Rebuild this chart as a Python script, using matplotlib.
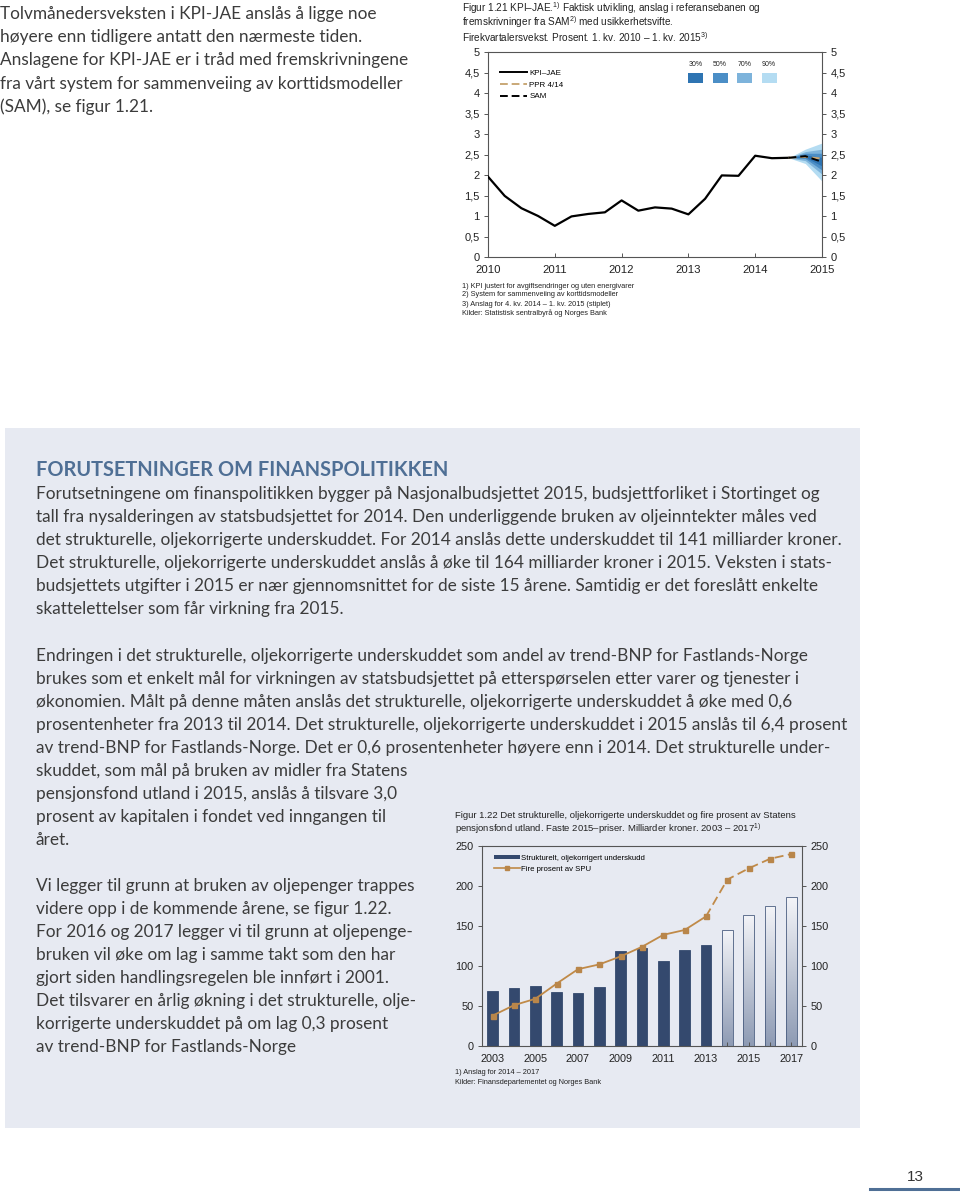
import numpy as np
import matplotlib.pyplot as plt
from matplotlib.patches import Rectangle
from matplotlib.lines import Line2D
from matplotlib.colors import LinearSegmentedColormap

W, H = 960, 1195

# --- Figur 1.21: KPI-JAE (kvartal, 1. kv. 2010 - 3. kv. 2014) ---
kvartal = np.arange(2010.0, 2014.51, 0.25)
kpi_jae = [1.96, 1.49, 1.19, 1.00, 0.76, 0.99, 1.05, 1.09, 1.38, 1.13,
           1.21, 1.18, 1.04, 1.42, 1.99, 1.98, 2.47, 2.41, 2.42]

# anslag 3. kv. 2014 - 1. kv. 2015
kvartal_ansl = [2014.5, 2014.75, 2015.0]
sam = [2.42, 2.46, 2.32]
ppr_414 = [2.42, 2.44, 2.40]
vifte = {
    "90%": ([2.42, 2.28, 1.85], [2.42, 2.63, 2.78]),
    "70%": ([2.42, 2.35, 2.02], [2.42, 2.57, 2.63]),
    "50%": ([2.42, 2.40, 2.12], [2.42, 2.53, 2.53]),
    "30%": ([2.42, 2.43, 2.22], [2.42, 2.49, 2.43]),
}
vifte_farger = {"30%": "#2e74b2", "50%": "#4b8ec6", "70%": "#7db3db", "90%": "#b4dcf2"}

# --- Figur 1.22: underskudd og fire prosent av SPU ---
aar = list(range(2003, 2018))
underskudd = [69, 73, 75, 67, 66, 74, 119, 122, 106, 120, 126, 145, 164, 175, 186]
fire_prosent = [38, 51, 59, 78, 96, 102, 112, 124, 139, 145, 162, 208, 222, 234, 240]
siste_faktiske = 2013

TXT = "#3c3c3c"
NAVY = "#34496e"
TAN = "#c08a48"
PANEL = "#e7eaf2"

plt.rcParams["mathtext.fontset"] = "custom"
plt.rcParams["mathtext.rm"] = "Liberation Sans"
plt.rcParams["mathtext.it"] = "Liberation Sans"

fig = plt.figure(figsize=(W / 100, H / 100), dpi=100)
fig.patch.set_facecolor("white")


def fx(px):
    return px / W


def fy(py):
    return 1 - py / H


def put(px, py, s, **kw):
    kw.setdefault("va", "center")
    return fig.text(fx(px), fy(py), s, **kw)


def px_axes(l, t, r, b):
    return fig.add_axes([fx(l), fy(b), (r - l) / W, (b - t) / H])


# --- bakgrunnspanel ---
fig.patches.append(Rectangle((fx(5), fy(1128)), (860 - 5) / W, (1128 - 428) / H,
                             transform=fig.transFigure, facecolor=PANEL,
                             edgecolor="none", zorder=-10))

# --- brodtekst ---
body = dict(family="Lato", fontsize=12.4, color=TXT)
venstre_topp = [
    "Tolvmånedersveksten i KPI-JAE anslås å ligge noe",
    "høyere enn tidligere antatt den nærmeste tiden.",
    "Anslagene for KPI-JAE er i tråd med fremskrivningene",
    "fra vårt system for sammenveiing av korttidsmodeller",
    "(SAM), se figur 1.21.",
]
for i, s in enumerate(venstre_topp):
    put(0, 14 + i * 23.2, s, **body)

put(36, 470, "FORUTSETNINGER OM FINANSPOLITIKKEN", family="Lato", fontsize=14.4,
    fontweight="bold", color="#4f6f95")

avsnitt1 = [
    "Forutsetningene om finanspolitikken bygger på Nasjonalbudsjettet 2015, budsjettforliket i Stortinget og",
    "tall fra nysalderingen av statsbudsjettet for 2014. Den underliggende bruken av oljeinntekter måles ved",
    "det strukturelle, oljekorrigerte underskuddet. For 2014 anslås dette underskuddet til 141 milliarder kroner.",
    "Det strukturelle, oljekorrigerte underskuddet anslås å øke til 164 milliarder kroner i 2015. Veksten i stats-",
    "budsjettets utgifter i 2015 er nær gjennomsnittet for de siste 15 årene. Samtidig er det foreslått enkelte",
    "skattelettelser som får virkning fra 2015.",
]
for i, s in enumerate(avsnitt1):
    put(36, 494 + i * 23, s, **body)

avsnitt2 = [
    "Endringen i det strukturelle, oljekorrigerte underskuddet som andel av trend-BNP for Fastlands-Norge",
    "brukes som et enkelt mål for virkningen av statsbudsjettet på etterspørselen etter varer og tjenester i",
    "økonomien. Målt på denne måten anslås det strukturelle, oljekorrigerte underskuddet å øke med 0,6",
    "prosentenheter fra 2013 til 2014. Det strukturelle, oljekorrigerte underskuddet i 2015 anslås til 6,4 prosent",
    "av trend-BNP for Fastlands-Norge. Det er 0,6 prosentenheter høyere enn i 2014. Det strukturelle under-",
    "skuddet, som mål på bruken av midler fra Statens",
    "pensjonsfond utland i 2015, anslås å tilsvare 3,0",
    "prosent av kapitalen i fondet ved inngangen til",
    "året.",
]
for i, s in enumerate(avsnitt2):
    put(36, 656 + i * 23, s, **body)

avsnitt3 = [
    "Vi legger til grunn at bruken av oljepenger trappes",
    "videre opp i de kommende årene, se figur 1.22.",
    "For 2016 og 2017 legger vi til grunn at oljepenge-",
    "bruken vil øke om lag i samme takt som den har",
    "gjort siden handlingsregelen ble innført i 2001.",
    "Det tilsvarer en årlig økning i det strukturelle, olje-",
    "korrigerte underskuddet på om lag 0,3 prosent",
    "av trend-BNP for Fastlands-Norge",
]
for i, s in enumerate(avsnitt3):
    put(36, 886 + i * 23, s, **body)

# sidetall
put(915, 1177, "13", family="Liberation Sans", fontsize=11, color="#333333", ha="center")
fig.lines.append(Line2D([fx(870), fx(960)], [fy(1189), fy(1189)], transform=fig.transFigure,
                        color="#4f6f95", linewidth=2.2))

chart = dict(family="Liberation Sans", color="#222222")


def style_axes(ax):
    for sp in ax.spines.values():
        sp.set_color("#555555")
        sp.set_linewidth(0.8)
    ax.tick_params(axis="both", colors="#555555", labelcolor="#222222", width=0.7)


# --- Figur 1.21 ---
put(462, 8, r"Figur 1.21 KPI–JAE.$^{1)}$ Faktisk utvikling, anslag i referansebanen og",
    fontsize=7.2, **chart)
put(462, 22, r"fremskrivninger fra SAM$^{2)}$ med usikkerhetsvifte.", fontsize=7.2, **chart)
put(462, 37, r"Firekvartalersvekst. Prosent. 1. kv. 2010 – 1. kv. 2015$^{3)}$", fontsize=7.2, **chart)

ax1 = px_axes(488, 52, 822, 257)
ax1.set_facecolor("white")
for navn in ["90%", "70%", "50%", "30%"]:
    lo, hi = vifte[navn]
    ax1.fill_between(kvartal_ansl, lo, hi, color=vifte_farger[navn], linewidth=0, zorder=1)
ax1.plot(kvartal, kpi_jae, color="black", linewidth=1.6, zorder=3)
ax1.plot(kvartal_ansl, ppr_414, color="#c9a877", linewidth=1.4, dashes=(4, 2), zorder=3)
ax1.plot(kvartal_ansl, sam, color="black", linewidth=1.4, dashes=(4, 2), zorder=4)
ax1.set_xlim(2010, 2015)
ax1.set_ylim(0, 5)
yt = np.arange(0, 5.01, 0.5)
ylab = [f"{v:g}".replace(".", ",") for v in yt]
ax1.set_yticks(yt)
ax1.set_yticklabels(ylab, fontsize=8, family="Liberation Sans")
ax1.tick_params(axis="y", direction="out", length=3, pad=3, right=True, labelright=True)
ax1.set_xticks(range(2010, 2016))
ax1.set_xticklabels([str(a) for a in range(2010, 2016)], fontsize=8.2, family="Liberation Sans")
ax1.tick_params(axis="x", direction="in", length=3, pad=6)
style_axes(ax1)

ax1.legend(handles=[Line2D([], [], color="black", linewidth=1.4),
                    Line2D([], [], color="#c9a877", linewidth=1.4, dashes=(4, 2)),
                    Line2D([], [], color="black", linewidth=1.4, dashes=(4, 2))],
           labels=["KPI–JAE", "PPR 4/14", "SAM"], loc="upper left",
           bbox_to_anchor=(0.015, 0.95), frameon=False, handlelength=3.3,
           handletextpad=0.3, labelspacing=0.5,
           prop={"family": "Liberation Sans", "size": 5.8})

# vifte-forklaring
for i, navn in enumerate(["30%", "50%", "70%", "90%"]):
    x0 = 688 + i * 24.5
    fig.patches.append(Rectangle((fx(x0), fy(83)), 15 / W, 10 / H, transform=fig.transFigure,
                                 facecolor=vifte_farger[navn], edgecolor="none", zorder=5))
    put(x0 + 7.5, 64, navn, fontsize=5, ha="center", **chart)

put(462, 286, "1) KPI justert for avgiftsendringer og uten energivarer", fontsize=5.3, **chart)
put(462, 295, "2) System for sammenveiing av korttidsmodeller", fontsize=5.3, **chart)
put(462, 304, "3) Anslag for 4. kv. 2014 – 1. kv. 2015 (stiplet)", fontsize=5.3, **chart)
put(462, 313, "Kilder: Statistisk sentralbyrå og Norges Bank", fontsize=5.3, **chart)

# --- Figur 1.22 ---
put(455, 816, "Figur 1.22 Det strukturelle, oljekorrigerte underskuddet og fire prosent av Statens",
    fontsize=6.8, **chart)
put(455, 829, r"pensjonsfond utland. Faste 2015–priser. Milliarder kroner. 2003 – 2017$^{1)}$",
    fontsize=6.8, **chart)

ax2 = px_axes(482, 846, 802, 1046)
ax2.set_facecolor("none")
faktisk = [a <= siste_faktiske for a in aar]
bars = ax2.bar(aar, underskudd, width=0.5, color=[NAVY if f else "none" for f in faktisk],
               edgecolor=[NAVY if f else "#4a5d80" for f in faktisk], linewidth=0.6, zorder=2)
grad = np.linspace(0, 1, 100).reshape(-1, 1)
cmap = LinearSegmentedColormap.from_list("g", ["#f3f4f8", "#8e9bb4"])
for b, f in zip(bars, faktisk):
    if f:
        continue
    x0 = b.get_x()
    im = ax2.imshow(grad, extent=[x0, x0 + b.get_width(), 0, b.get_height()], aspect="auto",
                    cmap=cmap, origin="upper", zorder=1.5)
    im.set_clip_path(b)

i_s = aar.index(siste_faktiske)
ax2.plot(aar[:i_s + 1], fire_prosent[:i_s + 1], color=TAN, linewidth=1.3, zorder=3)
ax2.plot(aar[i_s:], fire_prosent[i_s:], color=TAN, linewidth=1.3, dashes=(5, 2.5), zorder=3)
ax2.plot(aar, fire_prosent, linestyle="none", marker="s", markersize=3.6,
         color="#b9864a", zorder=4)
ax2.set_xlim(2002.5, 2017.5)
ax2.set_ylim(0, 250)
ax2.set_yticks(range(0, 251, 50))
ax2.set_yticklabels([str(v) for v in range(0, 251, 50)], fontsize=7.8, family="Liberation Sans")
ax2.tick_params(axis="y", direction="out", length=3, pad=3, right=True, labelright=True)
ax2.set_xticks(aar)
ax2.set_xticklabels([str(a) if a % 2 == 1 else "" for a in aar], fontsize=7.8,
                    family="Liberation Sans")
ax2.tick_params(axis="x", direction="in", length=3, pad=6)
style_axes(ax2)

ax2.legend(handles=[Rectangle((0, 0), 1, 1, facecolor=NAVY, edgecolor="none"),
                    Line2D([], [], color=TAN, linewidth=1.2, marker="s",
                           markersize=3, markerfacecolor="#b9864a",
                           markeredgecolor="#b9864a")],
           labels=["Strukturelt, oljekorrigert underskudd", "Fire prosent av SPU"],
           loc="upper left", bbox_to_anchor=(0.015, 0.99), frameon=False,
           handlelength=3.4, handleheight=0.45, handletextpad=0.15, labelspacing=0.45,
           prop={"family": "Liberation Sans", "size": 5.6})

put(455, 1073, "1) Anslag for 2014 – 2017", fontsize=5.3, **chart)
put(455, 1083, "Kilder: Finansdepartementet og Norges Bank", fontsize=5.3, **chart)

fig.savefig("out.png", dpi=100)
